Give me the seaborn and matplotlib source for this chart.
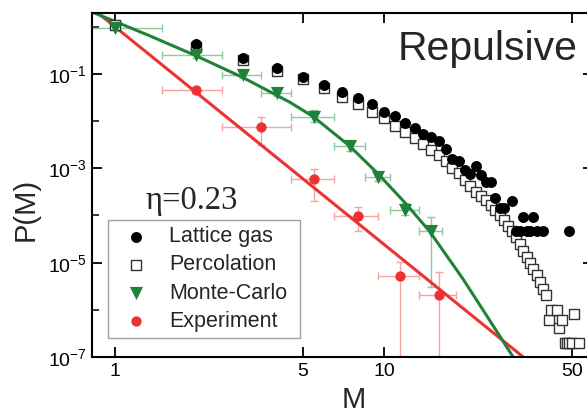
import numpy as np
import pandas as pd
import seaborn as sns
import matplotlib.pyplot as plt
from matplotlib.ticker import FixedLocator, FixedFormatter, NullLocator, NullFormatter

# 数据
lattice_M = [2, 3, 4, 5, 6, 7, 8, 9, 10, 11, 12, 13, 14, 15, 16, 17, 18, 19, 20,
             21, 22, 23, 24, 25, 26, 27, 28, 30, 31, 32, 33, 34, 35, 36, 37, 39, 49]
lattice_P = [0.43, 0.22, 0.134, 0.088, 0.058, 0.042, 0.031, 0.023, 0.0155, 0.0129,
             0.0093, 0.0073, 0.0053, 0.0045, 0.0038, 0.0026, 0.0016, 0.00145, 0.00093,
             0.00075, 0.0011, 0.00072, 0.00052, 0.00052, 0.00024, 0.000145, 0.000145,
             0.0002, 4.8e-5, 4.8e-5, 9.5e-5, 4.8e-5, 4.8e-5, 9.5e-5, 4.8e-5, 4.8e-5, 4.8e-5]

perc_M = [1, 2, 3, 4, 5, 6, 7, 8, 9, 10, 11, 12, 13, 14, 15, 16, 17, 18, 19, 20,
          21, 22, 23, 24, 25, 26, 27, 28, 29, 30, 31, 32, 33, 34, 35, 36, 37, 38, 39, 40,
          41, 42, 44, 45, 46, 47, 48, 49, 50, 51, 53]
perc_P = [1.1, 0.373, 0.198, 0.116, 0.078, 0.050, 0.033, 0.0228, 0.0159, 0.0115,
          0.0079, 0.0060, 0.00447, 0.00324, 0.00245, 0.00192, 0.00146, 0.00100, 7.9e-4, 5.7e-4,
          4.2e-4, 3.2e-4, 2.6e-4, 2.1e-4, 1.68e-4, 1.31e-4, 1.03e-4, 8.1e-5, 6.0e-5, 4.7e-5,
          3.5e-5, 2.5e-5, 1.78e-5, 1.33e-5, 9.9e-6, 7.4e-6, 5.5e-6, 3.9e-6, 2.8e-6, 2.08e-6,
          6.1e-7, 1.0e-6, 1.0e-6, 4.1e-7, 6.1e-7, 2.0e-7, 2.0e-7, 2.0e-7, 2.0e-7, 8.3e-7, 2.0e-7]

mc_M = [1, 2, 3, 4, 5.5, 7.5, 9.5, 12, 15]
mc_P = [0.96, 0.253, 0.095, 0.039, 0.0125, 0.0029, 6.7e-4, 1.3e-4, 4.8e-5]
mc_Mlo = [0.5, 1.5, 2.5, 3.5, 4.5, 6.5, 8.5, 10.5, 13.5]
mc_Mhi = [1.5, 2.5, 3.5, 4.5, 6.5, 8.5, 10.5, 13.5, 16.5]
mc_Plo = [0.85, 0.22, 0.083, 0.034, 0.0095, 0.0023, 5.3e-4, 1.0e-4, 3.0e-6]
mc_Phi = [1.05, 0.29, 0.108, 0.045, 0.0173, 0.0037, 8.5e-4, 1.82e-4, 9.2e-5]

exp_M = [2, 3.5, 5.5, 8, 11.5, 16]
exp_P = [0.046, 0.0076, 5.9e-4, 9.8e-5, 5.1e-6, 2.05e-6]
exp_Mlo = [1.5, 2.5, 4.5, 6.5, 9.5, 13.5]
exp_Mhi = [2.5, 4.5, 6.5, 9.5, 13.5, 18.5]
exp_Plo = [0.040, 0.0031, 2.07e-4, 4.6e-5, 1e-9, 1e-9]
exp_Phi = [0.053, 0.0121, 9.6e-4, 1.55e-4, 1.05e-5, 6.2e-6]

# 拟合曲线（沿曲线读点）
fit_red_M = [0.85, 33]
fit_red_P = [2.1, 1.0e-7]
fit_green_M = [0.82, 1.33, 2.0, 3.0, 4.47, 5.45, 7.47, 9.5, 12, 14.8, 19.7, 24.8, 30.2]
fit_green_P = [2.06, 0.661, 0.243, 0.0831, 0.0251, 0.01255, 0.00294, 7.7e-4, 1.85e-4,
               4.6e-5, 4.5e-6, 5.9e-7, 1.02e-7]

red = '#EC3232'
green = '#1F8239'

sns.set_style("ticks")
plt.rcParams['font.family'] = ['Liberation Sans', 'DejaVu Sans']
plt.rcParams['mathtext.fontset'] = 'custom'
plt.rcParams['mathtext.rm'] = 'Liberation Sans'
plt.rcParams['mathtext.default'] = 'regular'

fig = plt.figure(figsize=(5.87, 4.13), dpi=100)
ax = fig.add_axes([92 / 587, 56 / 413, 501 / 587, 344 / 413])
ax.set_xscale('log')
ax.set_yscale('log')

sns.lineplot(x=fit_red_M, y=fit_red_P, ax=ax, color=red, lw=2.2, zorder=2)
sns.lineplot(x=fit_green_M, y=fit_green_P, ax=ax, color=green, lw=2.2, zorder=2)

mc_M_a, mc_P_a = np.array(mc_M), np.array(mc_P)
ax.errorbar(mc_M, mc_P,
            xerr=[mc_M_a - np.array(mc_Mlo), np.array(mc_Mhi) - mc_M_a],
            yerr=[mc_P_a - np.array(mc_Plo), np.array(mc_Phi) - mc_P_a],
            fmt='none', ecolor='#8DCB9D', elinewidth=1, capsize=3, capthick=1, zorder=1)
exp_M_a, exp_P_a = np.array(exp_M), np.array(exp_P)
ax.errorbar(exp_M, exp_P,
            xerr=[exp_M_a - np.array(exp_Mlo), np.array(exp_Mhi) - exp_M_a],
            yerr=[exp_P_a - np.array(exp_Plo), np.array(exp_Phi) - exp_P_a],
            fmt='none', ecolor='#F5A3A3', elinewidth=1, capsize=3, capthick=1, zorder=1)

sns.scatterplot(x=perc_M, y=perc_P, ax=ax, marker='s', s=50, color='white',
                edgecolor='#333333', linewidth=1, label='Percolation', zorder=3)
sns.scatterplot(x=lattice_M, y=lattice_P, ax=ax, marker='o', s=62, color='black',
                edgecolor='black', linewidth=0, label='Lattice gas', zorder=4)
sns.scatterplot(x=mc_M, y=mc_P, ax=ax, marker='v', s=90, color=green,
                edgecolor=green, linewidth=0, label='Monte-Carlo', zorder=5)
sns.scatterplot(x=exp_M, y=exp_P, ax=ax, marker='o', s=55, color=red,
                edgecolor=red, linewidth=0, label='Experiment', zorder=6)

ax.set_xlim(0.82, 60)
ax.set_ylim(1e-7, 1.96)

ax.xaxis.set_major_locator(FixedLocator([1, 5, 10, 50]))
ax.xaxis.set_major_formatter(FixedFormatter(['1', '5', '10', '50']))
ax.xaxis.set_minor_locator(NullLocator())
ax.yaxis.set_major_locator(FixedLocator([1e-7, 1e-5, 1e-3, 1e-1]))
ax.yaxis.set_major_formatter(FixedFormatter(['$10^{-7}$', '$10^{-5}$', '$10^{-3}$', '$10^{-1}$']))
ax.yaxis.set_minor_locator(FixedLocator([1e-6, 1e-4, 1e-2, 1]))
ax.yaxis.set_minor_formatter(NullFormatter())
ax.tick_params(which='major', direction='in', top=True, right=True, length=7, width=1.3,
               labelsize=14, pad=4, colors='black')
ax.tick_params(which='minor', direction='in', top=False, right=False, left=True,
               length=5, width=1.3)
for s in ax.spines.values():
    s.set_linewidth(1.5)
    s.set_color('black')

ax.set_xlabel('M', fontsize=21, labelpad=0)
ax.set_ylabel('P(M)', fontsize=21)
ax.xaxis.set_label_coords(0.523, -0.085)
ax.yaxis.set_label_coords(-0.104, 0.43)

fig.text(398 / 587, 1 - 60 / 413, 'Repulsive', fontsize=29.5, va='baseline', ha='left')
fig.text(145 / 587, 1 - 209 / 413, 'η=0.23', fontsize=23.5, va='baseline', ha='left',
         family=['Liberation Serif', 'DejaVu Serif'])

handles, labels = ax.get_legend_handles_labels()
order = [labels.index(n) for n in ['Lattice gas', 'Percolation', 'Monte-Carlo', 'Experiment']]
leg = ax.legend([handles[i] for i in order], [labels[i] for i in order],
                loc='lower left', bbox_to_anchor=(0.032, 0.055, 0.383, 0.335), mode='expand',
                borderaxespad=0, fontsize=15.5, frameon=True, fancybox=False,
                edgecolor='#888888', handletextpad=0.55, labelspacing=0.33, borderpad=0.3,
                handlelength=2.0)
leg.get_frame().set_linewidth(1)

fig.savefig('out.png', dpi=100)
